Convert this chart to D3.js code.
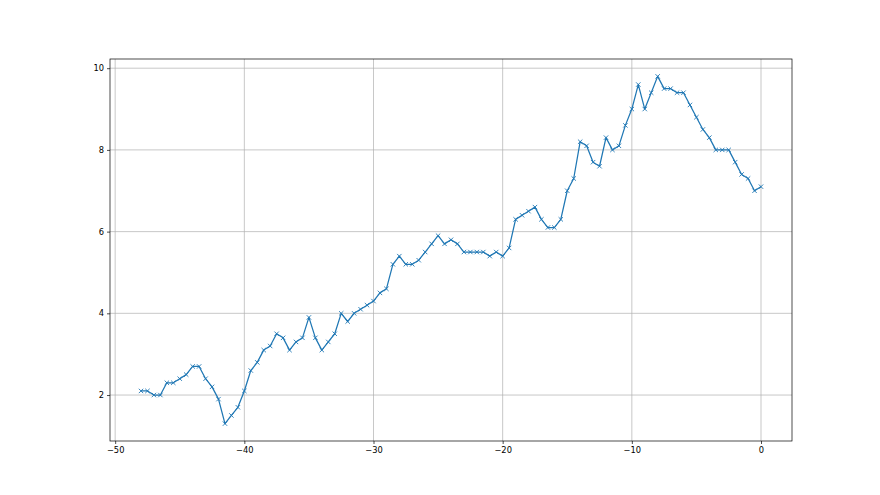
<!DOCTYPE html>
<html>
<head>
<meta charset="utf-8">
<script src="https://cdn.jsdelivr.net/npm/d3@7"></script>
<style>
  html, body { margin: 0; padding: 0; background: #fff; }
  svg { display: block; }
</style>
</head>
<body>
<svg id="chart" width="880" height="495"></svg>
<script>
const xValues = [-48,-47.5,-47,-46.5,-46,-45.5,-45,-44.5,-44,-43.5,-43,-42.5,-42,-41.5,-41,-40.5,-40,-39.5,-39,-38.5,-38,-37.5,-37,-36.5,-36,-35.5,-35,-34.5,-34,-33.5,-33,-32.5,-32,-31.5,-31,-30.5,-30,-29.5,-29,-28.5,-28,-27.5,-27,-26.5,-26,-25.5,-25,-24.5,-24,-23.5,-23,-22.5,-22,-21.5,-21,-20.5,-20,-19.5,-19,-18.5,-18,-17.5,-17,-16.5,-16,-15.5,-15,-14.5,-14,-13.5,-13,-12.5,-12,-11.5,-11,-10.5,-10,-9.5,-9,-8.5,-8,-7.5,-7,-6.5,-6,-5.5,-5,-4.5,-4,-3.5,-3,-2.5,-2,-1.5,-1,-0.5,0];
const yValues = [2.1,2.1,2.0,2.0,2.3,2.3,2.4,2.5,2.7,2.7,2.4,2.2,1.9,1.3,1.5,1.7,2.1,2.6,2.8,3.1,3.2,3.5,3.4,3.1,3.3,3.4,3.9,3.4,3.1,3.3,3.5,4.0,3.8,4.0,4.1,4.2,4.3,4.5,4.6,5.2,5.4,5.2,5.2,5.3,5.5,5.7,5.9,5.7,5.8,5.7,5.5,5.5,5.5,5.5,5.4,5.5,5.4,5.6,6.3,6.4,6.5,6.6,6.3,6.1,6.1,6.3,7.0,7.3,8.2,8.1,7.7,7.6,8.3,8.0,8.1,8.6,9.0,9.6,9.0,9.4,9.8,9.5,9.5,9.4,9.4,9.1,8.8,8.5,8.3,8.0,8.0,8.0,7.7,7.4,7.3,7.0,7.1];
const xTicks = [-50,-40,-30,-20,-10,0];
const yTicks = [2,4,6,8,10];

(function () {
const data = xValues.map((x, i) => ({x, y: yValues[i]}));

const mLeft = 110, mRight = 792, mTop = 59, mBottom = 441;
const svg = d3.select('#chart');

const xMin = d3.min(xValues), xMax = d3.max(xValues);
const yMin = d3.min(yValues), yMax = d3.max(yValues);
const xPad = (xMax - xMin) * 0.05, yPad = (yMax - yMin) * 0.05;

const x = d3.scaleLinear().domain([xMin - xPad, xMax + xPad]).range([mLeft, mRight]);
const y = d3.scaleLinear().domain([yMin - yPad, yMax + yPad]).range([mBottom, mTop]);

const font = 'DejaVu Sans, sans-serif';

// grid
const grid = svg.append('g');
grid.selectAll('.gx').data(xTicks).enter().append('line')
  .attr('x1', d => x(d)).attr('x2', d => x(d))
  .attr('y1', mTop).attr('y2', mBottom)
  .attr('stroke', '#b0b0b0').attr('stroke-width', 0.7);
grid.selectAll('.gy').data(yTicks).enter().append('line')
  .attr('y1', d => y(d)).attr('y2', d => y(d))
  .attr('x1', mLeft).attr('x2', mRight)
  .attr('stroke', '#b0b0b0').attr('stroke-width', 0.7);

// line
const line = d3.line().x(d => x(d.x)).y(d => y(d.y));
svg.append('path').datum(data)
  .attr('d', line)
  .attr('fill', 'none')
  .attr('stroke', '#1f77b4')
  .attr('stroke-width', 1.25)
  .attr('stroke-linejoin', 'round');

// markers 'x'
const ms = 2.2;
const mk = svg.append('g');
mk.selectAll('path').data(data).enter().append('path')
  .attr('d', d => {
    const cx = x(d.x), cy = y(d.y);
    return `M${cx-ms},${cy-ms}L${cx+ms},${cy+ms}M${cx-ms},${cy+ms}L${cx+ms},${cy-ms}`;
  })
  .attr('stroke', '#1f77b4')
  .attr('stroke-width', 0.9)
  .attr('fill', 'none');

// axes
const xAxis = d3.axisBottom(x).tickValues(xTicks).tickSize(3).tickPadding(3)
  .tickFormat(d => d3.format('')(d).replace('-', '\u2212'));
const yAxis = d3.axisLeft(y).tickValues(yTicks).tickSize(3).tickPadding(3)
  .tickFormat(d3.format(''));

const gx = svg.append('g').attr('transform', `translate(0,${mBottom})`).call(xAxis);
const gy = svg.append('g').attr('transform', `translate(${mLeft},0)`).call(yAxis);
[gx, gy].forEach(g => {
  g.select('.domain').remove();
  g.selectAll('.tick line').attr('stroke', '#000').attr('stroke-width', 0.7);
  g.selectAll('.tick text').attr('fill', '#000').style('font-family', font).style('font-size', '8.3px');
});

// spines
svg.append('rect')
  .attr('x', mLeft).attr('y', mTop)
  .attr('width', mRight - mLeft).attr('height', mBottom - mTop)
  .attr('fill', 'none').attr('stroke', '#000').attr('stroke-width', 0.7);
})();
</script>
</body>
</html>
